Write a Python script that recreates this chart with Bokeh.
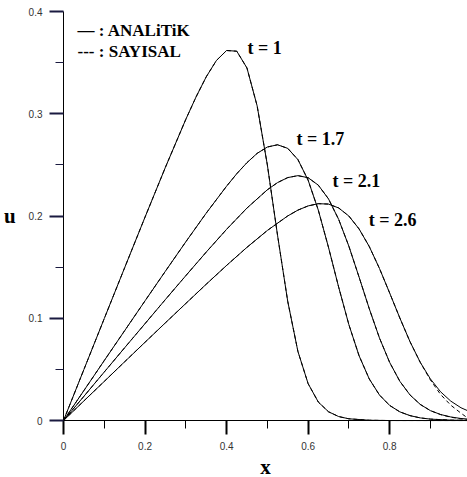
from bokeh.plotting import figure
from bokeh.models import Label, Range1d, FixedTicker
from bokeh.embed import file_html
from bokeh.resources import INLINE

# ---- data ----
x_t1 = [0, 0.05, 0.1, 0.15, 0.2, 0.25, 0.3, 0.325, 0.35, 0.375, 0.4, 0.425, 0.45, 0.475, 0.5,
        0.525, 0.55, 0.575, 0.6, 0.625, 0.65, 0.675, 0.7, 0.75, 0.8, 0.85, 0.9, 0.95, 1.0]
u_t1 = [0, 0.0499, 0.0998, 0.1495, 0.1990, 0.2477, 0.2946, 0.3164, 0.3361, 0.3521, 0.3619, 0.3612,
        0.3448, 0.3077, 0.2500, 0.1812, 0.1166, 0.0676, 0.0361, 0.0181, 0.0086, 0.0039, 0.0017,
        0.0003, 0.0000, 0, 0, 0, 0]
u_num_t1 = [0, 0.0499, 0.0998, 0.1495, 0.1990, 0.2477, 0.2946, 0.3164, 0.3361, 0.3521, 0.3619, 0.3612,
            0.3448, 0.3077, 0.2500, 0.1812, 0.1166, 0.0676, 0.0361, 0.0181, 0.0086, 0.0039, 0.0017,
            0.0003, 0.0000, 0, 0, 0, 0]

x_t17 = [0, 0.05, 0.1, 0.15, 0.2, 0.25, 0.3, 0.35, 0.4, 0.425, 0.45, 0.475, 0.5, 0.525, 0.55, 0.575,
         0.6, 0.625, 0.65, 0.675, 0.7, 0.725, 0.75, 0.775, 0.8, 0.825, 0.85, 0.875, 0.9, 0.95, 1.0]
u_t17 = [0, 0.0293, 0.0587, 0.0879, 0.1171, 0.1461, 0.1748, 0.2028, 0.2292, 0.2414, 0.2522, 0.2613,
         0.2675, 0.2697, 0.2662, 0.2552, 0.2351, 0.2058, 0.1694, 0.1304, 0.0938, 0.0634, 0.0407,
         0.0250, 0.0148, 0.0085, 0.0048, 0.0026, 0.0014, 0.0004, 0.0001]
u_num_t17 = [0, 0.0293, 0.0587, 0.0879, 0.1171, 0.1461, 0.1748, 0.2028, 0.2292, 0.2414, 0.2522, 0.2613,
             0.2675, 0.2697, 0.2662, 0.2552, 0.2351, 0.2058, 0.1694, 0.1304, 0.0938, 0.0634, 0.0407,
             0.0250, 0.0148, 0.0085, 0.0048, 0.0026, 0.0014, 0.0004, 0.0]

x_t21 = [0, 0.05, 0.1, 0.15, 0.2, 0.25, 0.3, 0.35, 0.4, 0.45, 0.5, 0.525, 0.55, 0.575, 0.6, 0.625,
         0.65, 0.675, 0.7, 0.725, 0.75, 0.775, 0.8, 0.825, 0.85, 0.875, 0.9, 0.925, 0.95, 0.975, 1.0]
u_t21 = [0, 0.0237, 0.0475, 0.0712, 0.0948, 0.1184, 0.1417, 0.1647, 0.1870, 0.2078, 0.2257, 0.2327,
         0.2376, 0.2395, 0.2375, 0.2302, 0.2168, 0.1967, 0.1705, 0.1403, 0.1094, 0.0808, 0.0569,
         0.0384, 0.0250, 0.0158, 0.0097, 0.0059, 0.0035, 0.0020, 0.0012]
u_num_t21 = [0, 0.0237, 0.0475, 0.0712, 0.0948, 0.1184, 0.1417, 0.1647, 0.1870, 0.2078, 0.2257, 0.2327,
             0.2376, 0.2395, 0.2375, 0.2302, 0.2168, 0.1967, 0.1705, 0.1403, 0.1094, 0.0808, 0.0569,
             0.0384, 0.0250, 0.0158, 0.0097, 0.0058, 0.0033, 0.0016, 0.0]

x_t26 = [0, 0.05, 0.1, 0.15, 0.2, 0.25, 0.3, 0.35, 0.4, 0.45, 0.5, 0.55, 0.575, 0.6, 0.625, 0.65,
         0.675, 0.7, 0.725, 0.75, 0.775, 0.8, 0.825, 0.85, 0.875, 0.9, 0.925, 0.95, 0.975, 1.0]
u_t26 = [0, 0.0192, 0.0383, 0.0575, 0.0766, 0.0956, 0.1145, 0.1333, 0.1517, 0.1694, 0.1859, 0.2001,
         0.2058, 0.2099, 0.2121, 0.2117, 0.2079, 0.2000, 0.1874, 0.1702, 0.1488, 0.1248, 0.1003,
         0.0771, 0.0570, 0.0407, 0.0281, 0.0190, 0.0125, 0.0081]
u_num_t26 = [0, 0.0192, 0.0383, 0.0575, 0.0766, 0.0956, 0.1145, 0.1333, 0.1517, 0.1694, 0.1859, 0.2001,
             0.2058, 0.2099, 0.2121, 0.2117, 0.2079, 0.2000, 0.1874, 0.1702, 0.1488, 0.1248, 0.1003,
             0.0771, 0.0570, 0.0397, 0.0255, 0.0150, 0.0072, 0.0]

curve_labels = ["t = 1", "t = 1.7", "t = 2.1", "t = 2.6"]
legend_labels = ["\u2014 : ANALiTiK", "--- : SAYISAL"]
x_title = "x"
y_title = "u"

x_ticks = [0, 0.2, 0.4, 0.6, 0.8]
x_tick_labels = ["0", "0.2", "0.4", "0.6", "0.8"]
x_minor = [0.1, 0.3, 0.5, 0.7, 0.9]
y_ticks = [0, 0.1, 0.2, 0.3, 0.4]
y_tick_labels = ["0", "0.1", "0.2", "0.3", "0.4"]
y_minor = [0.05, 0.15, 0.25, 0.35]

X_MAX = 0.991
Y_MAX = 0.4

# frame fills the canvas; axes drawn at data zero with bounds
p = figure(width=467, height=477, output_backend="svg", toolbar_location=None,
           x_range=Range1d(-0.1546, X_MAX), y_range=Range1d(-0.0557, 0.4108),
           min_border_left=0, min_border_right=0, min_border_top=0, min_border_bottom=0)
p.xgrid.visible = False
p.ygrid.visible = False
p.outline_line_color = None

series = [(x_t1, u_t1, u_num_t1), (x_t17, u_t17, u_num_t17),
          (x_t21, u_t21, u_num_t21), (x_t26, u_t26, u_num_t26)]
for xs, ua, un in series:
    p.line(xs, un, line_color="black", line_width=1, line_dash="4 3")
    p.line(xs, ua, line_color="black", line_width=1)

serif = "Liberation Serif"

for ax, ticks, labels, minor in [(p.xaxis[0], x_ticks, x_tick_labels, x_minor),
                                 (p.yaxis[0], y_ticks, y_tick_labels, y_minor)]:
    ax.fixed_location = 0
    ax.ticker = FixedTicker(ticks=ticks, minor_ticks=minor)
    ax.major_label_overrides = {t: l for t, l in zip(ticks, labels)}
    ax.axis_line_color = "black"
    ax.major_label_text_font = "Liberation Sans"
    ax.major_label_text_font_size = "10px"
    ax.major_label_text_color = "#333333"
    ax.major_label_standoff = 7
    ax.axis_label_text_font = serif
    ax.axis_label_text_font_style = "bold"
    ax.axis_label_text_font_size = "21px"
    ax.axis_label_text_color = "black"

# tick styling (set through the axis collections, as in the run where ticks showed)
p.xaxis.major_tick_line_color = "black"
p.xaxis.major_tick_line_width = 2
p.xaxis.minor_tick_line_color = "black"
p.xaxis.minor_tick_line_width = 1
p.xaxis.major_tick_out = 14
p.xaxis.major_tick_in = 0
p.xaxis.minor_tick_out = 8
p.xaxis.minor_tick_in = 0
p.yaxis.major_tick_line_color = "#1a1a40"
p.yaxis.major_tick_line_width = 2
p.yaxis.minor_tick_line_color = "#1a1a40"
p.yaxis.minor_tick_line_width = 1
p.yaxis.major_tick_out = 14
p.yaxis.major_tick_in = 0
p.yaxis.minor_tick_out = 8
p.yaxis.minor_tick_in = 0

p.xaxis.bounds = (0, X_MAX)
p.yaxis.bounds = (0, Y_MAX)
p.xaxis.axis_label = x_title
p.xaxis.axis_label_standoff = 2
p.yaxis.axis_label = y_title
p.yaxis.axis_label_standoff = 10
p.yaxis.axis_label_orientation = "horizontal"

label_pos = [(0.4515, 0.3648), (0.5718, 0.2758), (0.660, 0.2347), (0.7485, 0.1966)]
for txt, (lx, ly) in zip(curve_labels, label_pos):
    p.add_layout(Label(x=lx, y=ly, text=txt, text_font=serif, text_font_style="bold",
                       text_font_size="18px", text_color="black",
                       text_align="left", text_baseline="alphabetic"))

for txt, ly in zip(legend_labels, [0.3814, 0.3609]):
    p.add_layout(Label(x=0.0344, y=ly, text=txt, text_font=serif, text_font_style="bold",
                       text_font_size="17px", text_color="black",
                       text_align="left", text_baseline="alphabetic"))

open("out.html", "w").write(file_html(p, INLINE))
